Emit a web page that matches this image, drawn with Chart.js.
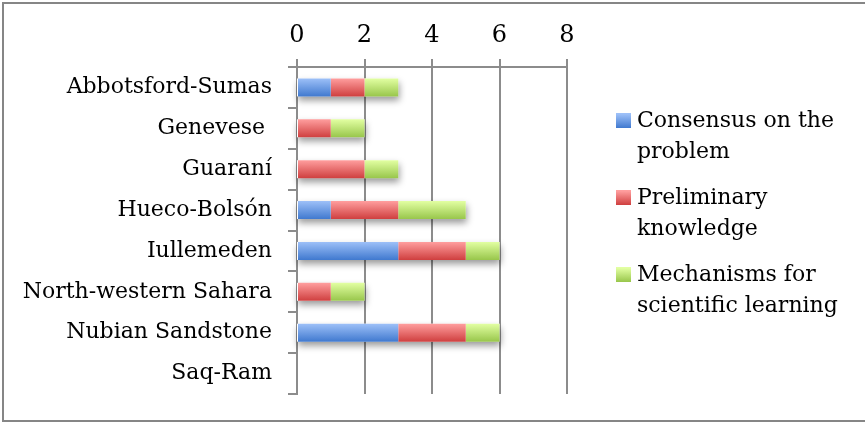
<!DOCTYPE html>
<html>
<head>
<meta charset="utf-8">
<script src="https://cdn.jsdelivr.net/npm/chart.js@4.4.1/dist/chart.umd.min.js"></script>
<style>
  html, body { margin: 0; padding: 0; background: #fff; overflow: hidden; }
  #wrap { width: 865px; height: 424px; }
</style>
</head>
<body>
<div id="wrap"><canvas id="Chart"></canvas></div>
<script>
// aquifers and the score of each criterion
const aquifers = ['Abbotsford-Sumas', 'Genevese ', 'Guaraní', 'Hueco-Bolsón', 'Iullemeden',
                  'North-western Sahara', 'Nubian Sandstone', 'Saq-Ram'];
const consensus   = [1, 0, 0, 1, 3, 0, 3, 0];
const preliminary = [1, 1, 2, 2, 2, 1, 2, 0];
const mechanisms  = [1, 1, 1, 2, 1, 1, 1, 0];
const seriesNames = [['Consensus on the', 'problem'],
                     ['Preliminary', 'knowledge'],
                     ['Mechanisms for', 'scientific learning']];
const xTicks = [0, 2, 4, 6, 8];

const FONT = '"DejaVu Serif", "Liberation Serif", serif';
const GRID = '#8c8c8c';
const BAR_PCT = 0.44;

// top/bottom colours of each series gradient
const shades = [['#9dc0f8', '#4079cf'], ['#ff9e9e', '#cf3f3f'], ['#e2ffa2', '#98c64b']];

function barFill(i) {
  return function(c) {
    const chart = c.chart;
    const y = chart.scales.y;
    if (!y || !chart.chartArea) return shades[i][1];
    const mid = y.getPixelForValue(c.dataIndex);
    const half = (chart.chartArea.height / aquifers.length) * BAR_PCT / 2;
    const g = chart.ctx.createLinearGradient(0, mid - half, 0, mid + half);
    g.addColorStop(0, shades[i][0]);
    g.addColorStop(1, shades[i][1]);
    return g;
  };
}

// soft shadow under every whole bar
const barShadow = {
  id: 'barShadow',
  beforeDatasetsDraw(chart) {
    const { ctx, scales: { x, y }, chartArea } = chart;
    const half = (chartArea.height / aquifers.length) * BAR_PCT / 2;
    ctx.save();
    ctx.shadowColor = 'rgba(0,0,0,0.4)';
    ctx.shadowBlur = 7;
    ctx.shadowOffsetY = 4;
    ctx.shadowOffsetX = 1;
    ctx.fillStyle = '#fff';
    aquifers.forEach((_, i) => {
      const total = consensus[i] + preliminary[i] + mechanisms[i];
      if (!total) return;
      const mid = y.getPixelForValue(i);
      const x0 = x.getPixelForValue(0), x1 = x.getPixelForValue(total);
      ctx.fillRect(x0, mid - half, x1 - x0, half * 2);
    });
    ctx.restore();
  }
};

// frame (left, top, bottom) round the figure and the legend on the right
const frameAndLegend = {
  id: 'frameAndLegend',
  afterDraw(chart) {
    const ctx = chart.ctx;
    const w = chart.width;
    ctx.save();
    ctx.fillStyle = '#868686';
    ctx.fillRect(2, 2, 2, 420);
    ctx.fillRect(2, 2, w, 2);
    ctx.fillRect(2, 420, w, 2);

    ctx.font = '22px ' + FONT;
    ctx.textBaseline = 'middle';
    seriesNames.forEach((lines, i) => {
      const top = 121 + i * 77;
      const g = ctx.createLinearGradient(0, top - 7, 0, top + 7);
      g.addColorStop(0, shades[i][0]);
      g.addColorStop(1, shades[i][1]);
      ctx.fillStyle = g;
      ctx.fillRect(616, top - 8, 15, 15);
      ctx.fillStyle = '#000';
      lines.forEach((t, j) => ctx.fillText(t, 637, top + j * 31));
    });
    ctx.restore();
  }
};

const datasets = [consensus, preliminary, mechanisms].map((d, i) => ({
  label: seriesNames[i].join(' '),
  data: d,
  backgroundColor: barFill(i),
  borderWidth: 0,
  barPercentage: BAR_PCT,
  categoryPercentage: 1
}));

new Chart(document.getElementById('Chart'), {
  type: 'bar',
  data: { labels: aquifers, datasets: datasets },
  plugins: [barShadow, frameAndLegend],
  options: {
    indexAxis: 'y',
    responsive: true,
    maintainAspectRatio: false,
    animation: false,
    layout: { padding: { left: 0, top: 0, right: 298, bottom: 30 } },
    plugins: { legend: { display: false }, tooltip: { enabled: false } },
    scales: {
      x: {
        position: 'top',
        stacked: true,
        min: 0,
        max: 8,
        afterFit(a) { a.height = 67; },
        afterBuildTicks(a) { a.ticks = xTicks.map(v => ({ value: v })); },
        ticks: { color: '#000', font: { family: FONT, size: 24 }, padding: 9 },
        grid: { color: GRID, lineWidth: 2, tickLength: 8 },
        border: { color: GRID, width: 2 }
      },
      y: {
        stacked: true,
        afterFit(a) { a.width = 297; },
        ticks: { color: '#000', font: { family: FONT, size: 22 }, padding: 16 },
        grid: { color: GRID, lineWidth: 2, tickLength: 9, drawOnChartArea: false, offset: true },
        border: { color: GRID, width: 2 }
      }
    }
  }
});
</script>
</body>
</html>
